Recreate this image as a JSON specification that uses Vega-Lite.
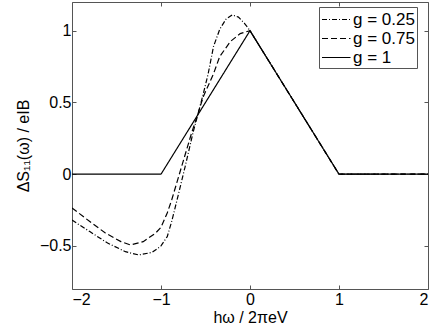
{
  "$schema": "https://vega.github.io/schema/vega-lite/v6.json",
  "width": 356,
  "height": 287,
  "autosize": {"type": "none"},
  "padding": {"left": 72, "top": 2, "right": 8, "bottom": 43},
  "background": "white",
  "config": {
    "font": "Liberation Sans",
    "view": {"stroke": "#555", "strokeWidth": 1},
    "axis": {"grid": false, "domain": false, "tickColor": "#555", "tickSize": -4, "labelColor": "black", "labelFontSize": 16, "titleFontSize": 16, "titleFontWeight": "normal", "titleColor": "black", "labelFont": "Liberation Sans", "titleFont": "Liberation Sans"}
  },
  "data": {"values": [
    {"x": -2, "y": -0.32, "g": "g = 0.25"},
    {"x": -1.8, "y": -0.40, "g": "g = 0.25"},
    {"x": -1.6, "y": -0.48, "g": "g = 0.25"},
    {"x": -1.4, "y": -0.54, "g": "g = 0.25"},
    {"x": -1.25, "y": -0.563, "g": "g = 0.25"},
    {"x": -1.1, "y": -0.545, "g": "g = 0.25"},
    {"x": -1.0, "y": -0.5, "g": "g = 0.25"},
    {"x": -0.93, "y": -0.435, "g": "g = 0.25"},
    {"x": -0.88, "y": -0.33, "g": "g = 0.25"},
    {"x": -0.82, "y": -0.18, "g": "g = 0.25"},
    {"x": -0.73, "y": 0.05, "g": "g = 0.25"},
    {"x": -0.64, "y": 0.29, "g": "g = 0.25"},
    {"x": -0.58, "y": 0.43, "g": "g = 0.25"},
    {"x": -0.525, "y": 0.56, "g": "g = 0.25"},
    {"x": -0.47, "y": 0.70, "g": "g = 0.25"},
    {"x": -0.41, "y": 0.89, "g": "g = 0.25"},
    {"x": -0.34, "y": 1.01, "g": "g = 0.25"},
    {"x": -0.27, "y": 1.08, "g": "g = 0.25"},
    {"x": -0.2, "y": 1.11, "g": "g = 0.25"},
    {"x": -0.13, "y": 1.095, "g": "g = 0.25"},
    {"x": -0.06, "y": 1.05, "g": "g = 0.25"},
    {"x": 0, "y": 1.0, "g": "g = 0.25"},
    {"x": 0.5, "y": 0.5, "g": "g = 0.25"},
    {"x": 1, "y": 0, "g": "g = 0.25"},
    {"x": 2, "y": 0, "g": "g = 0.25"},
    {"x": -2, "y": -0.235, "g": "g = 0.75"},
    {"x": -1.8, "y": -0.33, "g": "g = 0.75"},
    {"x": -1.625, "y": -0.41, "g": "g = 0.75"},
    {"x": -1.45, "y": -0.47, "g": "g = 0.75"},
    {"x": -1.345, "y": -0.493, "g": "g = 0.75"},
    {"x": -1.2, "y": -0.47, "g": "g = 0.75"},
    {"x": -1.06, "y": -0.41, "g": "g = 0.75"},
    {"x": -1.0, "y": -0.37, "g": "g = 0.75"},
    {"x": -0.93, "y": -0.27, "g": "g = 0.75"},
    {"x": -0.88, "y": -0.18, "g": "g = 0.75"},
    {"x": -0.77, "y": 0.05, "g": "g = 0.75"},
    {"x": -0.655, "y": 0.29, "g": "g = 0.75"},
    {"x": -0.58, "y": 0.43, "g": "g = 0.75"},
    {"x": -0.525, "y": 0.54, "g": "g = 0.75"},
    {"x": -0.41, "y": 0.70, "g": "g = 0.75"},
    {"x": -0.34, "y": 0.82, "g": "g = 0.75"},
    {"x": -0.22, "y": 0.925, "g": "g = 0.75"},
    {"x": -0.11, "y": 0.98, "g": "g = 0.75"},
    {"x": 0, "y": 1.0, "g": "g = 0.75"},
    {"x": 0.5, "y": 0.5, "g": "g = 0.75"},
    {"x": 1, "y": 0, "g": "g = 0.75"},
    {"x": 2, "y": 0, "g": "g = 0.75"},
    {"x": -2, "y": 0, "g": "g = 1"},
    {"x": -1, "y": 0, "g": "g = 1"},
    {"x": 0, "y": 1, "g": "g = 1"},
    {"x": 1, "y": 0, "g": "g = 1"},
    {"x": 2, "y": 0, "g": "g = 1"}
  ]},
  "layer": [
    {
      "mark": {"type": "line", "color": "black", "strokeWidth": 1.2, "clip": true},
      "encoding": {
        "x": {"field": "x", "type": "quantitative", "scale": {"domain": [-2, 2], "nice": false, "zero": false},
              "axis": {"orient": "bottom", "values": [-2, -1, 0, 1, 2], "format": "d", "title": "hω / 2πeV", "labelPadding": 6, "titlePadding": 2}},
        "y": {"field": "y", "type": "quantitative", "scale": {"domain": [-0.8, 1.2], "nice": false, "zero": false},
              "axis": {"orient": "left", "values": [-0.5, 0, 0.5, 1], "format": "~g", "title": "ΔS₁₁(ω) / eIB", "labelPadding": 5, "titlePadding": 8}},
        "strokeDash": {"field": "g", "type": "nominal",
          "scale": {"domain": ["g = 0.25", "g = 0.75", "g = 1"], "range": [[5, 2, 1, 2], [6, 3], [1, 0]]},
          "legend": {"title": null, "orient": "none", "legendX": 247, "legendY": 5, "symbolType": "M-1,0H2", "symbolSize": 361, "symbolStrokeColor": "black", "symbolFillColor": "transparent", "symbolStrokeWidth": 1.2, "labelFontSize": 17, "labelColor": "black", "labelFont": "Liberation Sans", "strokeColor": "#555", "fillColor": "white", "padding": 2, "rowPadding": 0, "labelOffset": 11, "cornerRadius": 0}}
      }
    },
    {
      "mark": {"type": "point", "opacity": 0},
      "encoding": {
        "x": {"field": "x", "type": "quantitative", "axis": {"orient": "top", "values": [-2, -1, 0, 1, 2], "labels": false, "title": null}},
        "y": {"field": "y", "type": "quantitative", "axis": {"orient": "right", "values": [-0.5, 0, 0.5, 1], "labels": false, "title": null}}
      }
    }
  ],
  "resolve": {"axis": {"x": "independent", "y": "independent"}}
}
